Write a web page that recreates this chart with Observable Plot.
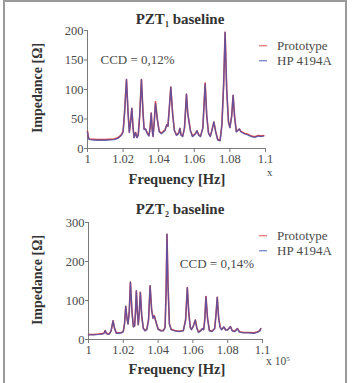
<!DOCTYPE html>
<html><head><meta charset="utf-8">
<script src="https://cdn.jsdelivr.net/npm/d3@7"></script>
<script src="https://cdn.jsdelivr.net/npm/@observablehq/plot@0.6"></script>
<style>
body{margin:0;background:#fff;}
#wrap{position:relative;width:352px;height:383px;overflow:hidden;background:#fff;}
#wrap svg{position:absolute;left:0;}
#frame{position:absolute;left:3px;top:0px;width:340px;height:400px;border:2px solid #9a9a9a;border-bottom:none;}
</style></head>
<body><div id="wrap"><div id="frame"></div></div>
<script>
// ---------- data (frequency in units of 10^5 Hz, impedance in ohm) ----------
const xTicks = [1, 1.02, 1.04, 1.06, 1.08, 1.1];
const xTickLabels = ["1", "1.02", "1.04", "1.06", "1.08", "1.1"];
const yTicksTop = [0, 50, 100, 150, 200];
const yTicksBottom = [0, 100, 200, 300];
const seriesNames = ["Prototype", "HP 4194A"];

const freqTop = [1.000,1.0005,1.001,1.005,1.010,1.015,1.017,1.019,1.020,1.0208,1.0219,1.0228,1.0235,1.0242,1.0249,1.0256,1.0262,1.0270,1.0278,1.0285,1.0293,1.0303,1.0312,1.0318,1.0326,1.0336,1.0345,1.0352,1.0358,1.0364,1.0368,1.0375,1.0382,1.0392,1.0403,1.0415,1.0435,1.0445,1.0452,1.0460,1.0468,1.0478,1.0488,1.0500,1.0512,1.0519,1.0526,1.0535,1.0545,1.0556,1.0563,1.0568,1.0578,1.0590,1.0605,1.0615,1.0625,1.0635,1.0648,1.0661,1.0670,1.0680,1.0690,1.0700,1.0710,1.0720,1.0732,1.0745,1.0755,1.0765,1.0773,1.0782,1.0792,1.0800,1.0810,1.0818,1.0826,1.0836,1.0845,1.0853,1.0862,1.0880,1.0900,1.0920,1.0940,1.0960,1.0975,1.0990];
const hpTop = [28,18,15,14,14,15,17,22,28,60,117,60,27,45,68,35,18,27,18,22,55,117,60,32,33,25,21,35,60,30,20,45,76,50,28,25,30,40,38,70,104,60,30,22,25,34,22,20,35,92,60,50,30,20,24,30,22,20,35,109,55,25,20,32,45,28,14,13,40,110,197,100,45,35,55,90,55,28,30,33,28,25,23,20,19,21,20,21];
const protoTop = [29,19,16,15,15,16,18,23,29,60,117,60,28,45,68,35,19,27,19,23,55,117,60,33,33,26,22,35,60,31,21,45,79,50,29,26,31,40,38,70,104,60,31,23,26,34,23,21,35,92,60,50,31,21,25,30,23,21,35,111,55,26,21,32,45,29,15,14,40,110,197,100,45,36,55,90,55,29,31,33,29,26,24,21,20,22,21,22];

const freqBottom = [1.000,1.003,1.006,1.008,1.009,1.0096,1.0102,1.0110,1.0120,1.0130,1.0141,1.0150,1.0160,1.0175,1.0190,1.0200,1.0207,1.0214,1.0221,1.0227,1.0234,1.0241,1.0250,1.0258,1.0265,1.0270,1.0275,1.0281,1.0286,1.0292,1.0298,1.0306,1.0315,1.0325,1.0335,1.0345,1.0354,1.0363,1.0371,1.0378,1.0388,1.0400,1.0415,1.0430,1.0440,1.0446,1.0451,1.0457,1.0465,1.0475,1.0495,1.0520,1.0545,1.0558,1.0568,1.0576,1.0585,1.0592,1.0603,1.0614,1.0622,1.0632,1.0645,1.0655,1.0662,1.0668,1.0675,1.0684,1.0695,1.0710,1.0725,1.0732,1.0740,1.0748,1.0757,1.0765,1.0778,1.0788,1.0800,1.0816,1.0826,1.0840,1.0856,1.0867,1.0890,1.0920,1.0950,1.0970,1.0985,1.0990];
const hpBottom = [12,12,13,14,16,23,16,13,14,22,48,28,16,16,17,20,40,85,55,40,70,147,70,32,35,70,125,70,38,70,121,60,28,22,25,50,138,75,55,60,45,26,22,22,30,120,270,140,40,25,22,20,22,50,133,70,30,25,35,50,30,18,22,28,25,50,110,55,22,20,28,60,108,55,30,25,32,24,24,33,22,20,28,19,17,17,16,18,22,28];
const protoBottom = [13,13,14,15,17,23,17,14,15,22,48,28,17,17,18,21,40,85,55,40,70,147,70,33,35,70,125,70,38,70,121,60,29,23,26,50,138,75,55,61,45,27,23,23,31,120,270,140,40,26,23,21,23,50,133,70,31,26,35,50,31,19,23,28,26,50,110,55,23,21,28,60,108,55,31,26,32,25,25,33,23,21,28,20,18,18,17,19,23,28];

const ccdTop = "CCD = 0,12%";
const ccdBottom = "CCD = 0,14%";

// ---------- styling ----------
const RED = "#d9423f", BLUE = "#3f55b8", AX = "#7a7a7a", TXT = "#4a4a4a";
const FONT = "Liberation Serif, Times New Roman, serif";

function rows(freq, vals, name){ return freq.map((f,i)=>({f, v: vals[i], s: name})); }

function makePlot(o){
  const p = Plot.plot({
    width: 352, height: o.height,
    marginLeft: o.ml, marginRight: o.mr, marginTop: o.mt, marginBottom: o.mb,
    style: {fontFamily: FONT, fontSize: "12.5px", color: TXT, background: "transparent", overflow: "visible"},
    x: {domain: [1, 1.1]},
    y: {domain: o.ydom},
    marks: [
      Plot.axisX({ticks: xTicks, tickFormat: (d)=>xTickLabels[xTicks.indexOf(d)], tickSize: 4, tickPadding: 2, stroke: AX, label: null, fontSize: 12.5}),
      Plot.axisY({ticks: o.yticks, tickSize: 3, tickPadding: 1, stroke: AX, label: null, fontSize: 12.5}),
      Plot.ruleY([o.ydom[0]], {stroke: AX}),
      Plot.ruleX([1], {stroke: AX}),
      Plot.line(rows(o.freq, o.proto, seriesNames[0]), {x: "f", y: "v", stroke: RED, strokeWidth: 1.6}),
      Plot.line(rows(o.freq, o.hp, seriesNames[1]), {x: "f", y: "v", stroke: BLUE, strokeWidth: 1.3, strokeOpacity: 0.75}),
      Plot.text([o.ccd], {x: o.ccdX, y: o.ccdY, text: d=>d, textAnchor: "start", fill: TXT, fontSize: 13})
    ]
  });
  p.style.top = o.top + "px";
  return p;
}

const wrap = document.getElementById("wrap");
wrap.appendChild(makePlot({top: 0, height: 190, ml: 87, mr: 87, mt: 30, mb: 42, ydom: [0,200], yticks: yTicksTop,
  freq: freqTop, hp: hpTop, proto: protoTop, ccd: ccdTop, ccdX: 1.0073, ccdY: 150}));
wrap.appendChild(makePlot({top: 190, height: 193, ml: 88, mr: 90, mt: 32, mb: 44, ydom: [0,300], yticks: yTicksBottom,
  freq: freqBottom, hp: hpBottom, proto: protoBottom, ccd: ccdBottom, ccdX: 1.0525, ccdY: 193}));

// ---------- overlay text: titles, axis labels, legends ----------
const ov = d3.select(wrap).append("svg").attr("width", 352).attr("height", 383)
  .style("top", "0px").style("font-family", FONT).style("pointer-events", "none");

function title(y, sub){
  const t = ov.append("text").attr("x", 180).attr("y", y).attr("text-anchor", "middle")
    .attr("font-weight", "bold").attr("font-size", 15).attr("fill", "#333");
  t.append("tspan").text("PZT");
  t.append("tspan").attr("font-size", 8).attr("dy", 3).text(sub);
  t.append("tspan").attr("dy", -3).text(" baseline");
}
function ylabel(cy){
  ov.append("text").attr("transform", `translate(42,${cy}) rotate(-90)`).attr("text-anchor", "middle")
    .attr("font-weight", "bold").attr("font-size", 14).attr("fill", "#333").text("Impedance [Ω]");
}
function xlabel(y){
  ov.append("text").attr("x", 177).attr("y", y).attr("text-anchor", "middle")
    .attr("font-weight", "bold").attr("font-size", 14.5).attr("fill", "#333").text("Frequency [Hz]");
}
function legend(y0){
  [[RED, seriesNames[0]], [BLUE, seriesNames[1]]].forEach(([c, n], i) => {
    const y = y0 + i * 15;
    ov.append("line").attr("x1", 259).attr("x2", 267).attr("y1", y).attr("y2", y).attr("stroke", c).attr("stroke-width", 1.3).attr("opacity", 0.7);
    ov.append("text").attr("x", 277).attr("y", y + 4.5).attr("font-size", 13).attr("fill", TXT).text(n);
  });
}
title(24, "1"); ylabel(88); xlabel(184); legend(45.7);
ov.append("text").attr("x", 267).attr("y", 176).attr("font-size", 11).attr("fill", TXT).text("x");

title(214, "2"); ylabel(280); xlabel(374); legend(235.7);
const e = ov.append("text").attr("x", 266).attr("y", 365).attr("font-size", 11.5).attr("fill", TXT);
e.append("tspan").text("x 10");
e.append("tspan").attr("font-size", 7).attr("dy", -4).text("5");
</script></body></html>
